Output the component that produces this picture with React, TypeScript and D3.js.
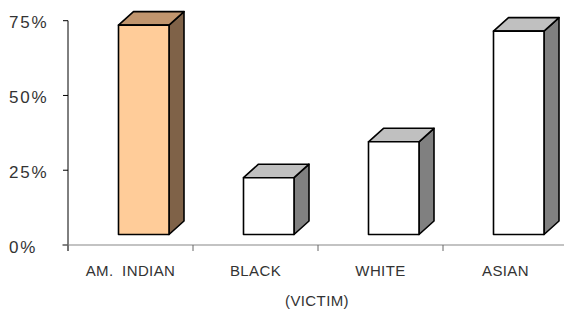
import React from "react";
import * as d3 from "d3";

const categories = ["AM. INDIAN", "BLACK", "WHITE", "ASIAN"];
const values = [70, 19, 31, 68];
const yTicks = [0, 25, 50, 75];
const axisTitle = "(VICTIM)";

const palettes = [
  { front: "#ffcc99", top: "#c0956e", side: "#7f6248" },
  { front: "#ffffff", top: "#c0c0c0", side: "#808080" },
  { front: "#ffffff", top: "#c0c0c0", side: "#808080" },
  { front: "#ffffff", top: "#c0c0c0", side: "#808080" },
];

export default function App() {
  const width = 564;
  const height = 309;
  const left = 68;
  const right = 568;
  const y0 = 245;

  const y = d3.scaleLinear().domain([0, 75]).range([y0, 20.7]);
  const x = d3.scaleBand().domain(categories).range([left, right]);
  const bw = x.bandwidth();

  // 3d depth
  const dx = 15;
  const dy = -13.5;
  const floor = -10.5;
  const font = "Liberation Sans, Arial, sans-serif";

  return (
    <div style={{ position: "absolute", left: 0, top: 0 }}>
      <svg width={width} height={height} style={{ display: "block" }}>
        <rect width={width} height={height} fill="#fff" />
        {/* y axis */}
        <line x1={left} x2={left} y1={y(75)} y2={y0 + 6} stroke="#000" strokeWidth={1} />
        {yTicks.map((t) => (
          <g key={t}>
            <line x1={left - 5} x2={left} y1={y(t)} y2={y(t)} stroke="#000" />
            <text
              x={9}
              y={y(t) + 2}
              dominantBaseline="central"
              fontFamily={font}
              fontSize={17}
              letterSpacing={1.8}
              fill="#333"
            >
              {t}%
            </text>
          </g>
        ))}
        {/* x axis */}
        <line x1={left - 6} x2={width} y1={y0} y2={y0} stroke="#888" strokeWidth={1.2} />
        {categories.map((c) => (
          <line key={c} x1={x(c)!} x2={x(c)!} y1={y0} y2={y0 + 6} stroke="#666" />
        ))}
        {/* bars */}
        {categories.map((c, i) => {
          const p = palettes[i];
          const fx = x(c)! + bw * 0.404;
          const fw = bw * 0.404;
          const top = y(values[i]) + floor;
          const bot = y0 + floor;
          const topFace = `M${fx},${top} L${fx + dx},${top + dy} L${fx + fw + dx},${top + dy} L${fx + fw},${top} Z`;
          const sideFace = `M${fx + fw},${top} L${fx + fw + dx},${top + dy} L${fx + fw + dx},${bot + dy} L${fx + fw},${bot} Z`;
          return (
            <g key={c} stroke="#000" strokeWidth={1.6} strokeLinejoin="round">
              <path d={sideFace} fill={p.side} />
              <path d={topFace} fill={p.top} />
              <rect x={fx} y={top} width={fw} height={bot - top} fill={p.front} />
            </g>
          );
        })}
        {categories.map((c) => (
          <text
            key={c}
            x={x(c)! + bw / 2}
            y={275.5}
            textAnchor="middle"
            fontFamily={font}
            fontSize={15}
            letterSpacing={0.4}
            wordSpacing={4}
            fill="#333"
          >
            {c}
          </text>
        ))}
        <text
          x={317}
          y={306}
          textAnchor="middle"
          fontFamily={font}
          fontSize={15}
          letterSpacing={0.4}
          fill="#333"
        >
          {axisTitle}
        </text>
      </svg>
    </div>
  );
}
